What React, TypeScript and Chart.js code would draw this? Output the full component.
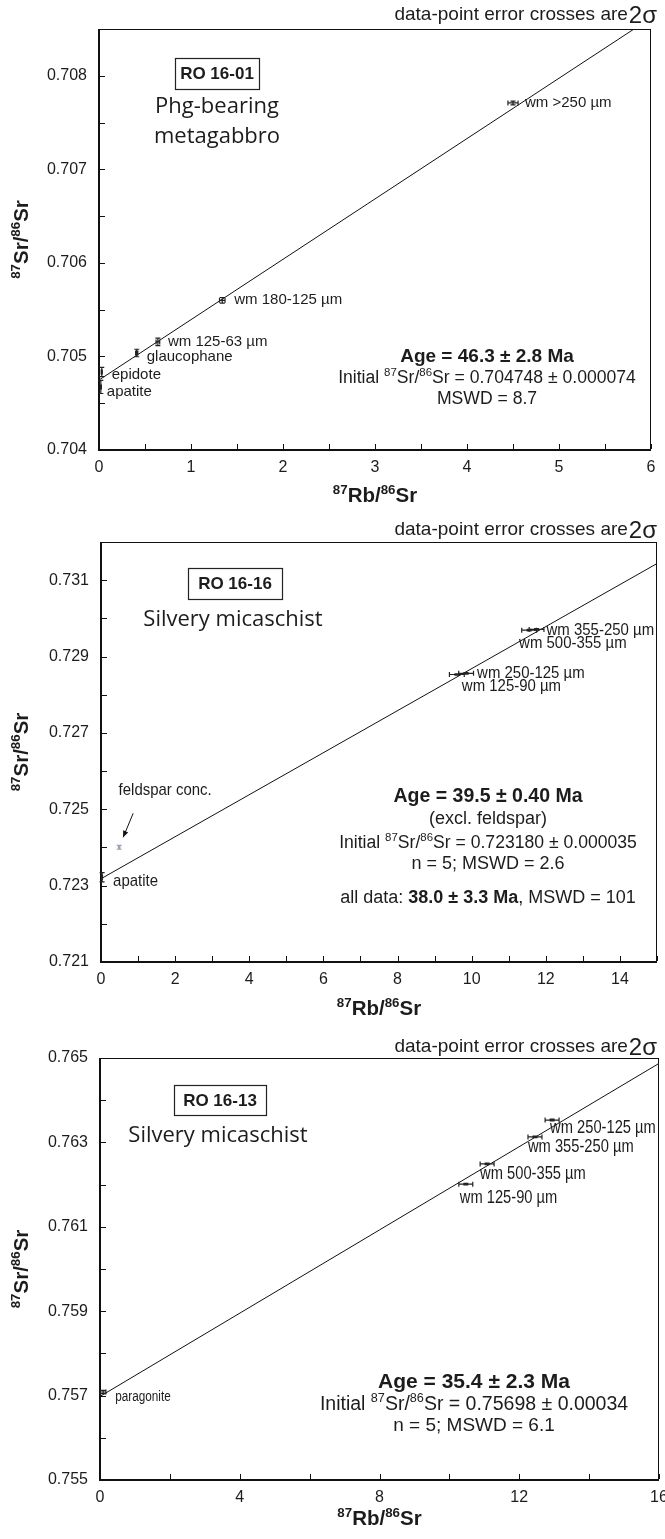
import React, { useEffect, useRef } from 'react';
import { Chart, registerables } from 'chart.js';

Chart.register(...registerables);

const LAMBDA_RB = 1.393e-11; // decay constant used for isochron slope

// ---------- RO 16-01 ----------
const p1Names = ['wm >250 µm', 'wm 180-125 µm', 'wm 125-63 µm', 'glaucophane', 'epidote', 'apatite'];
const p1Rb = [4.5, 1.34, 0.64, 0.41, 0.03, 0.02];
const p1RbErr = [0.055, 0.03, 0.02, 0.012, 0.006, 0.006];
const p1Sr = [0.70771, 0.7056, 0.705155, 0.705037, 0.704834, 0.704674];
const p1SrErr = [0.00002, 0.00003, 0.00004, 0.00004, 0.00005, 0.00007];
const p1Colors = ['#222', '#222', '#222', '#222', '#222', '#222'];
const p1Age = 46.3;
const p1Initial = 0.704748;
const p1XRange = [0, 6];
const p1YRange = [0.704, 0.7085];
const p1XStep = 0.5;
const p1YStep = 0.0005;
const p1XTickLabels = ['0', '1', '2', '3', '4', '5', '6'];
const p1YTickLabels = ['0.704', '0.705', '0.706', '0.707', '0.708'];
const p1Sample = 'RO 16-01';
const p1Lithology = ['Phg-bearing', 'metagabbro'];
const p1Stats = ['Age = 46.3 ± 2.8 Ma', 'Initial ^87Sr/^86Sr = 0.704748 ± 0.000074', 'MSWD = 8.7'];

// ---------- RO 16-16 ----------
const p2Names = ['wm 355-250 µm', 'wm 500-355 µm', 'wm 250-125 µm', 'wm 125-90 µm', 'feldspar conc.', 'apatite'];
const p2Rb = [11.75, 11.55, 9.85, 9.6, 0.49, 0.03];
const p2RbErr = [0.2, 0.2, 0.2, 0.2, 0.02, 0.01];
const p2Sr = [0.72971, 0.72969, 0.72856, 0.72853, 0.724003, 0.72322];
const p2SrErr = [0.00002, 0.00002, 0.00002, 0.00002, 0.00005, 0.00012];
const p2Colors = ['#222', '#222', '#222', '#222', '#9aa3b5', '#222'];
const p2Age = 39.5;
const p2Initial = 0.72318;
const p2XRange = [0, 15];
const p2YRange = [0.721, 0.732];
const p2XStep = 1;
const p2YStep = 0.001;
const p2XTickLabels = ['0', '2', '4', '6', '8', '10', '12', '14'];
const p2YTickLabels = ['0.721', '0.723', '0.725', '0.727', '0.729', '0.731'];
const p2Sample = 'RO 16-16';
const p2Lithology = ['Silvery micaschist'];
const p2Stats = [
  'Age = 39.5 ± 0.40 Ma',
  '(excl. feldspar)',
  'Initial ^87Sr/^86Sr = 0.723180 ± 0.000035',
  'n = 5; MSWD = 2.6',
  'all data: **38.0 ± 3.3 Ma**, MSWD = 101',
];

// ---------- RO 16-13 ----------
const p3Names = ['wm 250-125 µm', 'wm 355-250 µm', 'wm 500-355 µm', 'wm 125-90 µm', 'paragonite'];
const p3Rb = [12.94, 12.45, 11.08, 10.47, 0.09];
const p3RbErr = [0.2, 0.2, 0.2, 0.2, 0.08];
const p3Sr = [0.76353, 0.76313, 0.76249, 0.76201, 0.757085];
const p3SrErr = [0.00002, 0.00002, 0.00002, 0.00002, 0.00004];
const p3Colors = ['#222', '#222', '#222', '#222', '#222'];
const p3Age = 35.4;
const p3Initial = 0.75698;
const p3XRange = [0, 16];
const p3YRange = [0.755, 0.765];
const p3XStep = 2;
const p3YStep = 0.001;
const p3XTickLabels = ['0', '4', '8', '12', '16'];
const p3YTickLabels = ['0.755', '0.757', '0.759', '0.761', '0.763', '0.765'];
const p3Sample = 'RO 16-13';
const p3Lithology = ['Silvery micaschist'];
const p3Stats = ['Age = 35.4 ± 2.3 Ma', 'Initial ^87Sr/^86Sr = 0.75698 ± 0.00034', 'n = 5; MSWD = 6.1'];

const noteText = 'data-point error crosses are';
const noteSigma = '2σ';
const xTitle = '^87Rb/^86Sr';
const yTitle = '^87Sr/^86Sr';

// ---------- styling / layout ----------
const W = 665;
const FONT = '"Liberation Sans", Arial, Helvetica, sans-serif';
const LITH_FONT = '"Open Sans", "Noto Sans", sans-serif';
const INK = '#1c1c1c';

const panels = [
  {
    d: {
      names: p1Names, rb: p1Rb, rbErr: p1RbErr, sr: p1Sr, srErr: p1SrErr, colors: p1Colors,
      age: p1Age, initial: p1Initial, xRange: p1XRange, yRange: p1YRange, xStep: p1XStep, yStep: p1YStep,
      xTickLabels: p1XTickLabels, yTickLabels: p1YTickLabels, sample: p1Sample, lithology: p1Lithology, stats: p1Stats,
    },
    L: {
      top: 0, height: 515,
      area: { left: 99, right: 651, top: 29, bottom: 450 },
      noteY: 15, xTitleY: 495,
      idBox: { cx: 217, cy: 73.5, w: 84, h: 31 },
      lithX: 217, lithY: [107, 137],
      statsX: 487, statsY: [355, 377, 398], statsSize: [19, 17.6, 17.6], statsBold: [true, false, false],
      labelScaleX: 1,
      labelOffsets: [[12, 0, 'left'], [12, 0, 'left'], [10, 0, 'left'], [10, 4, 'left'], [10, 3, 'left'], [6, 5, 'left']],
      labelSizes: [15, 15, 15, 15, 15, 15],
      arrows: [],
    },
  },
  {
    d: {
      names: p2Names, rb: p2Rb, rbErr: p2RbErr, sr: p2Sr, srErr: p2SrErr, colors: p2Colors,
      age: p2Age, initial: p2Initial, xRange: p2XRange, yRange: p2YRange, xStep: p2XStep, yStep: p2YStep,
      xTickLabels: p2XTickLabels, yTickLabels: p2YTickLabels, sample: p2Sample, lithology: p2Lithology, stats: p2Stats,
    },
    L: {
      top: 515, height: 520,
      area: { left: 101, right: 657, top: 27, bottom: 447 },
      noteY: 15, xTitleY: 493,
      idBox: { cx: 235, cy: 68.5, w: 94, h: 31 },
      lithX: 233, lithY: [105],
      statsX: 488, statsY: [280, 303, 327, 348, 382], statsSize: [19.5, 18, 17.6, 18, 18],
      statsBold: [true, false, false, false, false],
      labelOffsets: [[10, 1, 'left'], [-10, 13, 'left'], [11, 0, 'left'], [5, 12, 'left'], [46, -57, 'center'], [11, 4, 'left']],
      labelSizes: [17, 17, 17, 17, 17, 17],
      labelScaleX: 0.88,
      arrows: [{ index: 4, from: [14, -34], to: [4, -10] }],
    },
  },
  {
    d: {
      names: p3Names, rb: p3Rb, rbErr: p3RbErr, sr: p3Sr, srErr: p3SrErr, colors: p3Colors,
      age: p3Age, initial: p3Initial, xRange: p3XRange, yRange: p3YRange, xStep: p3XStep, yStep: p3YStep,
      xTickLabels: p3XTickLabels, yTickLabels: p3YTickLabels, sample: p3Sample, lithology: p3Lithology, stats: p3Stats,
    },
    L: {
      top: 1035, height: 504,
      area: { left: 100, right: 659, top: 23, bottom: 445 },
      noteY: 12, xTitleY: 483,
      idBox: { cx: 220, cy: 65, w: 92, h: 30 },
      lithX: 218, lithY: [101],
      statsX: 474, statsY: [345, 368, 389], statsSize: [21, 19.5, 19], statsBold: [true, false, false],
      labelOffsets: [[-2, 8, 'left'], [-7, 10, 'left'], [-7, 10, 'left'], [-6, 14, 'left'], [12, 5, 'left']],
      labelSizes: [17.5, 17.5, 17.5, 17.5, 14],
      labelScaleX: 0.84,
      arrows: [],
    },
  },
];

type Seg = { t: string; sup: boolean; bold: boolean };

function parseRich(s: string): Seg[] {
  const out: Seg[] = [];
  let bold = false;
  for (const p of s.split(/(\^\d+|\*\*)/)) {
    if (!p) continue;
    if (p === '**') { bold = !bold; continue; }
    if (p.startsWith('^')) out.push({ t: p.slice(1), sup: true, bold });
    else out.push({ t: p, sup: false, bold });
  }
  return out;
}

function drawRich(ctx: CanvasRenderingContext2D, s: string, x: number, y: number, size: number,
  baseBold: boolean, align: string, family: string, color: string) {
  const segs = parseRich(s);
  const fontFor = (g: Seg) => `${g.bold || baseBold ? 'bold ' : ''}${g.sup ? size * 0.65 : size}px ${family}`;
  let total = 0;
  const widths = segs.map((g) => { ctx.font = fontFor(g); const w = ctx.measureText(g.t).width; total += w; return w; });
  let cx = align === 'center' ? x - total / 2 : align === 'right' ? x - total : x;
  ctx.fillStyle = color;
  ctx.textAlign = 'left';
  ctx.textBaseline = 'alphabetic';
  const base = y + size * 0.36;
  segs.forEach((g, i) => {
    ctx.font = fontFor(g);
    ctx.fillText(g.t, cx, g.sup ? base - size * 0.42 : base);
    cx += widths[i];
  });
}

function makeOverlay(d: any, L: any) {
  return {
    id: 'overlay',
    afterDraw(chart: any) {
      const ctx: CanvasRenderingContext2D = chart.ctx;
      const xs = chart.scales.x;
      const ys = chart.scales.y;
      const a = chart.chartArea;
      ctx.save();

      // frame
      ctx.fillStyle = '#111';
      ctx.fillRect(a.left - 1, a.top, 2, a.bottom - a.top + 1);
      ctx.fillRect(a.left - 1, a.bottom - 1, a.right - a.left + 1, 2);
      ctx.fillRect(a.left, a.top, a.right - a.left, 1);
      ctx.fillRect(a.right - 1, a.top, 1, a.bottom - a.top);

      // inward tick marks
      ctx.strokeStyle = '#111';
      ctx.lineWidth = 1;
      ctx.beginPath();
      xs.ticks.forEach((t: any) => {
        const px = Math.round(xs.getPixelForValue(t.value)) + 0.5;
        ctx.moveTo(px, a.bottom - 1); ctx.lineTo(px, a.bottom - 6);
      });
      ys.ticks.forEach((t: any) => {
        const py = Math.round(ys.getPixelForValue(t.value)) + 0.5;
        ctx.moveTo(a.left + 1, py); ctx.lineTo(a.left + 6, py);
      });
      ctx.stroke();

      // error crosses
      d.rb.forEach((x: number, i: number) => {
        const px = xs.getPixelForValue(x);
        const py = ys.getPixelForValue(d.sr[i]);
        const x0 = xs.getPixelForValue(x - d.rbErr[i]);
        const x1 = xs.getPixelForValue(x + d.rbErr[i]);
        const y0 = ys.getPixelForValue(d.sr[i] - d.srErr[i]);
        const y1 = ys.getPixelForValue(d.sr[i] + d.srErr[i]);
        ctx.strokeStyle = d.colors[i];
        ctx.lineWidth = 1.2;
        ctx.beginPath();
        ctx.moveTo(x0, py); ctx.lineTo(x1, py);
        ctx.moveTo(x0, py - 2.5); ctx.lineTo(x0, py + 2.5);
        ctx.moveTo(x1, py - 2.5); ctx.lineTo(x1, py + 2.5);
        ctx.moveTo(px, y0); ctx.lineTo(px, y1);
        ctx.moveTo(px - 2.5, y0); ctx.lineTo(px + 2.5, y0);
        ctx.moveTo(px - 2.5, y1); ctx.lineTo(px + 2.5, y1);
        ctx.stroke();
      });

      // point labels
      d.names.forEach((name: string, i: number) => {
        const px = xs.getPixelForValue(d.rb[i]);
        const py = ys.getPixelForValue(d.sr[i]);
        const [dx, dy, align] = L.labelOffsets[i];
        ctx.save();
        ctx.translate(px + dx, py + dy);
        ctx.scale(L.labelScaleX, 1);
        ctx.font = `${L.labelSizes[i]}px ${FONT}`;
        ctx.fillStyle = INK;
        ctx.textAlign = align;
        ctx.textBaseline = 'middle';
        ctx.fillText(name, 0, 0);
        ctx.restore();
      });

      // arrows
      L.arrows.forEach((ar: any) => {
        const px = xs.getPixelForValue(d.rb[ar.index]);
        const py = ys.getPixelForValue(d.sr[ar.index]);
        const fx = px + ar.from[0], fy = py + ar.from[1];
        const tx = px + ar.to[0], ty = py + ar.to[1];
        ctx.strokeStyle = '#111';
        ctx.fillStyle = '#111';
        ctx.lineWidth = 1;
        ctx.beginPath(); ctx.moveTo(fx, fy); ctx.lineTo(tx, ty); ctx.stroke();
        const ang = Math.atan2(ty - fy, tx - fx);
        ctx.beginPath();
        ctx.moveTo(tx, ty);
        ctx.lineTo(tx - 7 * Math.cos(ang - 0.4), ty - 7 * Math.sin(ang - 0.4));
        ctx.lineTo(tx - 7 * Math.cos(ang + 0.4), ty - 7 * Math.sin(ang + 0.4));
        ctx.closePath(); ctx.fill();
      });

      // sample id box
      const b = L.idBox;
      ctx.strokeStyle = '#222';
      ctx.lineWidth = 1.2;
      ctx.strokeRect(Math.round(b.cx - b.w / 2) + 0.5, Math.round(b.cy - b.h / 2) + 0.5, b.w, b.h);
      ctx.font = `bold 17px ${FONT}`;
      ctx.fillStyle = INK;
      ctx.textAlign = 'center';
      ctx.textBaseline = 'middle';
      ctx.fillText(d.sample, b.cx, b.cy + 1);

      // lithology
      ctx.font = `22px ${LITH_FONT}`;
      d.lithology.forEach((t: string, i: number) => ctx.fillText(t, L.lithX, L.lithY[i]));

      // stats block
      d.stats.forEach((t: string, i: number) =>
        drawRich(ctx, t, L.statsX, L.statsY[i], L.statsSize[i], L.statsBold[i], 'center', FONT, INK));

      // note top right
      ctx.font = `24px ${FONT}`;
      const sw = ctx.measureText(noteSigma).width;
      ctx.textAlign = 'right';
      ctx.textBaseline = 'middle';
      ctx.fillStyle = INK;
      ctx.fillText(noteSigma, 657, L.noteY + 1);
      ctx.font = `19px ${FONT}`;
      ctx.fillText(noteText, 657 - sw - 1, L.noteY);

      // axis titles
      drawRich(ctx, xTitle, (a.left + a.right) / 2, L.xTitleY, 20.5, true, 'center', FONT, INK);
      ctx.save();
      ctx.translate(21, (a.top + a.bottom) / 2);
      ctx.rotate(-Math.PI / 2);
      drawRich(ctx, yTitle, 0, 0, 20.5, true, 'center', FONT, INK);
      ctx.restore();

      ctx.restore();
    },
  };
}

function Panel({ d, L }: { d: any; L: any }) {
  const ref = useRef<HTMLCanvasElement | null>(null);
  useEffect(() => {
    const canvas = ref.current;
    if (!canvas) return;
    const slope = Math.expm1(LAMBDA_RB * d.age * 1e6);
    const xMax = d.xRange[1];
    const lineData = [
      { x: d.xRange[0], y: d.initial + slope * d.xRange[0] },
      { x: xMax, y: d.initial + slope * xMax },
    ];
    const pointData = d.rb.map((x: number, i: number) => ({ x, y: d.sr[i] }));
    const tickFont = { family: FONT, size: 16 };
    const chart = new Chart(canvas, {
      type: 'scatter',
      data: {
        datasets: [
          { data: lineData, showLine: true, borderColor: '#111', borderWidth: 1, pointRadius: 0, fill: false },
          { data: pointData, pointRadius: 0, showLine: false },
        ],
      },
      options: {
        animation: false,
        responsive: false,
        maintainAspectRatio: false,
        devicePixelRatio: 1,
        events: [],
        layout: { autoPadding: false, padding: { left: 0, top: L.area.top, right: W - L.area.right, bottom: 0 } },
        plugins: { legend: { display: false }, tooltip: { enabled: false }, title: { display: false } },
        scales: {
          x: {
            type: 'linear',
            min: d.xRange[0],
            max: d.xRange[1],
            grid: { display: false, drawTicks: false },
            border: { display: false },
            ticks: {
              stepSize: d.xStep,
              autoSkip: false,
              maxRotation: 0,
              padding: 8,
              color: INK,
              font: tickFont,
              callback: (v: any) => {
                const s = String(Math.round(Number(v) * 1000) / 1000);
                return d.xTickLabels.includes(s) ? s : '';
              },
            },
            afterFit: (s: any) => {
              s.height = L.height - L.area.bottom;
              s.paddingLeft = 0;
              s.paddingRight = 0;
            },
          },
          y: {
            type: 'linear',
            min: d.yRange[0],
            max: d.yRange[1],
            grid: { display: false, drawTicks: false },
            border: { display: false },
            ticks: {
              stepSize: d.yStep,
              autoSkip: false,
              padding: 12,
              color: INK,
              font: tickFont,
              callback: (v: any) => {
                const s = Number(v).toFixed(3);
                return d.yTickLabels.includes(s) && Math.abs(Number(s) - Number(v)) < 1e-7 ? s : '';
              },
            },
            afterFit: (s: any) => {
              s.width = L.area.left;
              s.paddingTop = 0;
              s.paddingBottom = 0;
            },
          },
        },
      },
      plugins: [makeOverlay(d, L)],
    } as any);
    return () => chart.destroy();
  }, [d, L]);
  return (
    <canvas
      ref={ref}
      width={W}
      height={L.height}
      style={{ position: 'absolute', left: 0, top: L.top, width: W, height: L.height, display: 'block' }}
    />
  );
}

export default function App() {
  return (
    <div style={{ position: 'absolute', left: 0, top: 0, width: W, height: 1539, background: '#fff', overflow: 'hidden' }}>
      {panels.map((p, i) => (
        <Panel key={i} d={p.d} L={p.L} />
      ))}
    </div>
  );
}
